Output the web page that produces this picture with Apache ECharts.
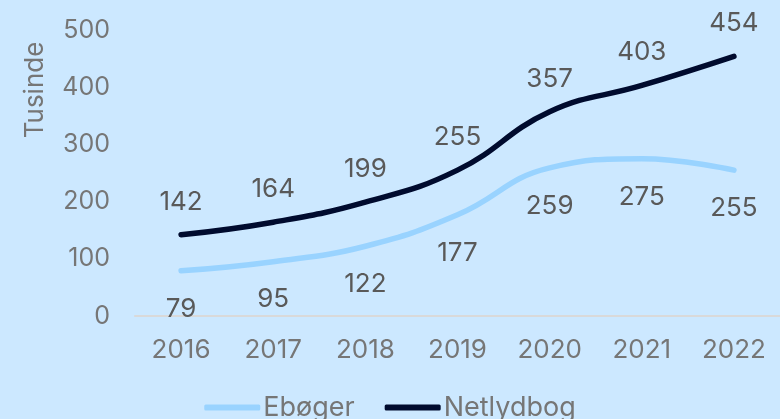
<!DOCTYPE html>
<html>
<head>
<meta charset="utf-8">
<script src="https://cdn.jsdelivr.net/npm/echarts@6/dist/echarts.min.js"></script>
<style>
  html, body { margin: 0; padding: 0; background: #CCE8FF; }
  #chart { width: 780px; height: 419px; }
</style>
</head>
<body>
<div id="chart"></div>
<script>
// Year categories on the x axis
const years = ['2016', '2017', '2018', '2019', '2020', '2021', '2022'];
// Lån i tusinde
const eboger = [79, 95, 122, 177, 259, 275, 255];
const netlydbog = [142, 164, 199, 255, 357, 403, 454];

const FONT = 'Inter, Lato, sans-serif';
const AXIS_GREY = '#767676';
const LABEL_GREY = '#595959';

const chart = echarts.init(document.getElementById('chart'), null, { renderer: 'canvas' });

chart.setOption({
  backgroundColor: '#CCE8FF',
  animation: false,
  textStyle: { fontFamily: FONT },
  grid: { left: 135, top: 30, bottom: 103, right: -11, containLabel: false },
  xAxis: {
    type: 'category',
    data: years,
    boundaryGap: true,
    axisLine: { show: true, lineStyle: { color: '#D9D9D9', width: 2 } },
    axisTick: { show: false },
    axisLabel: { color: AXIS_GREY, fontSize: 26, margin: 21, fontFamily: FONT }
  },
  yAxis: {
    type: 'value',
    min: 0,
    max: 500,
    interval: 100,
    axisLine: { show: false },
    axisTick: { show: false },
    splitLine: { show: false },
    axisLabel: { color: AXIS_GREY, fontSize: 25, margin: 25, fontFamily: FONT }
  },
  graphic: [{
    type: 'text',
    x: 35,
    y: 90,
    rotation: Math.PI / 2,
    style: {
      text: 'Tusinde',
      fill: AXIS_GREY,
      font: '26px ' + FONT,
      textAlign: 'center',
      textVerticalAlign: 'middle'
    }
  }],
  legend: {
    top: 389,
    left: 'center',
    itemWidth: 56,
    itemHeight: 6,
    itemGap: 30,
    icon: 'roundRect',
    textStyle: { color: AXIS_GREY, fontSize: 27, fontFamily: FONT, padding: [0, 0, 0, -2] },
    data: ['Ebøger', 'Netlydbog']
  },
  series: [
    {
      name: 'Ebøger',
      type: 'line',
      data: eboger,
      smooth: 0.45,
      symbol: 'circle',
      symbolSize: 2,
      showSymbol: true,
      itemStyle: { color: '#99D3FF' },
      lineStyle: { width: 5.5, color: '#99D3FF', cap: 'round' },
      label: {
        show: true,
        position: 'bottom',
        distance: 24,
        color: LABEL_GREY,
        fontSize: 26,
        fontFamily: FONT
      }
    },
    {
      name: 'Netlydbog',
      type: 'line',
      data: netlydbog,
      smooth: 0.45,
      symbol: 'circle',
      symbolSize: 2,
      showSymbol: true,
      itemStyle: { color: '#000B2E' },
      lineStyle: { width: 5.5, color: '#000B2E', cap: 'round' },
      label: {
        show: true,
        position: 'top',
        distance: 19,
        color: LABEL_GREY,
        fontSize: 26,
        fontFamily: FONT
      }
    }
  ]
});
</script>
</body>
</html>
